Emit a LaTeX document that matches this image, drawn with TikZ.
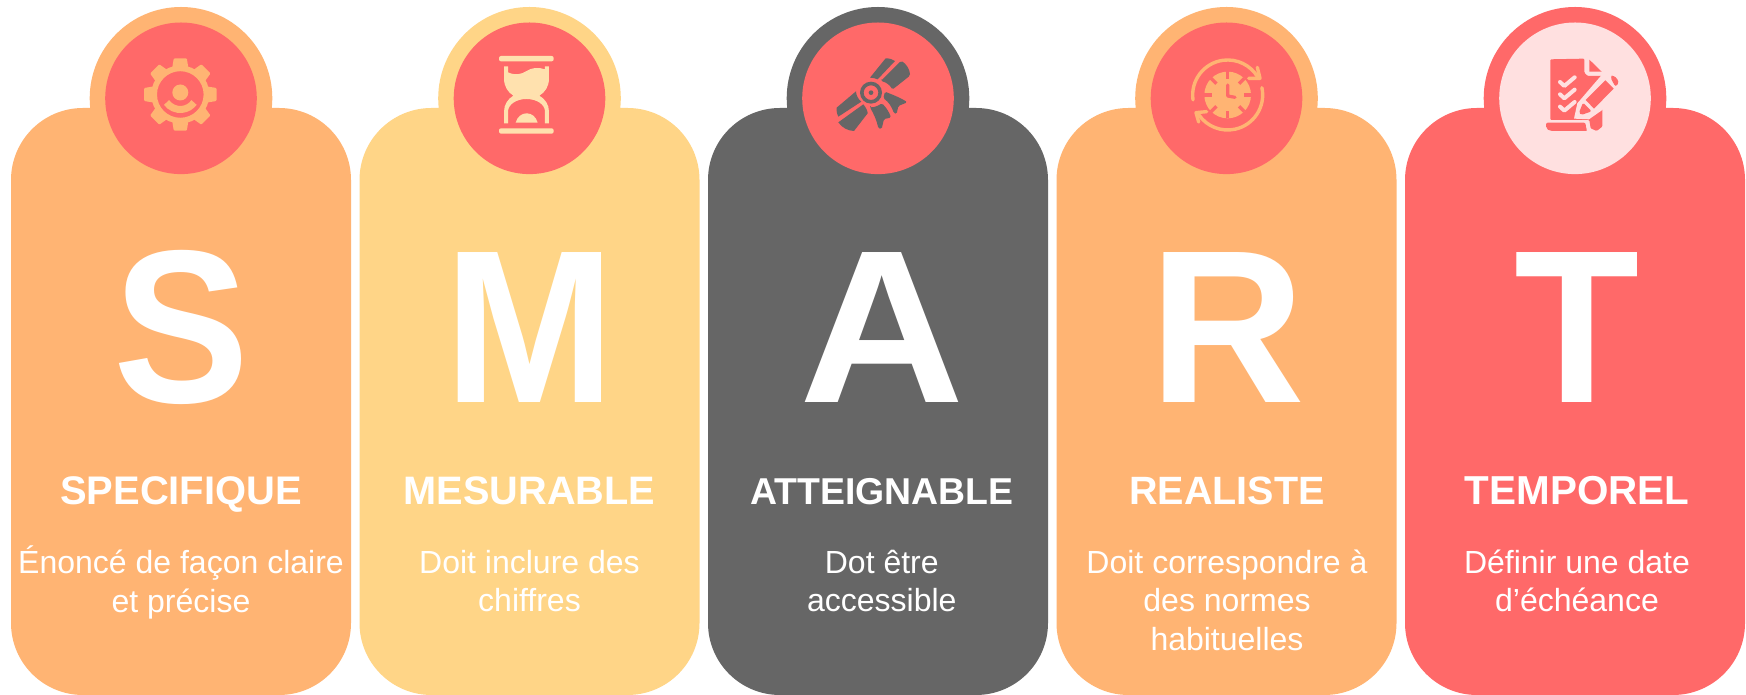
\documentclass[tikz,border=0pt]{standalone}
\usepackage{fontspec}
\setmainfont{Liberation Sans}
\newfontfamily\bodyfont{Liberation Sans}
\definecolor{cOrange}{HTML}{FFB473}
\definecolor{cYellow}{HTML}{FFD587}
\definecolor{cGrey}{HTML}{666666}
\definecolor{cRed}{HTML}{FF6969}
\definecolor{cPale}{HTML}{FFE0E0}
\definecolor{cSand}{HTML}{FFE1AE}
\tikzset{
  cardbox/.style={rectangle,rounded corners=72pt,minimum width=340pt,minimum height=587pt,inner sep=0pt,outer sep=0pt,anchor=south,fill=#1},
  ringdisc/.style={circle,minimum size=182.6pt,inner sep=0pt,outer sep=0pt,fill=#1},
  innerdisc/.style={circle,minimum size=151.6pt,inner sep=0pt,outer sep=0pt,fill=#1},
  bigletter/.style={anchor=base,inner sep=0pt,text=white,font=\bfseries\fontsize{218}{218}\selectfont},
  titletext/.style={anchor=base,inner sep=0pt,text=white,font=\bfseries\fontsize{#1}{#1}\selectfont},
  bodytext/.style={anchor=north,inner sep=0pt,align=center,text=white,font=\bodyfont\fontsize{32}{38.5}\selectfont},
}
\newcommand{\smartcard}[9]{%
  \node[cardbox=#3] (card#1) at (#2,0) {};
  \node[ringdisc=#3] (ring#1) at (#2,596.7) {};
  \node[innerdisc=#4] (disc#1) at (ring#1) {};
  \node[bigletter] (letter#1) at (#2+#5,292) {\scalebox{#8}[1]{#1}};
  \node[titletext=#7] (title#1) at (#2+#5,190) {#6};
  \node[bodytext] (body#1) at (#2+#5,149) {#9};
}
\begin{document}
\begin{tikzpicture}[x=1pt,y=1pt]
\useasboundingbox (0,0) rectangle (1746,695);
\fill[white] (0,0) rectangle (1746,695);
\smartcard{S}{181}{cOrange}{cRed}{0}{SPECIFIQUE}{39.9}{0.935}{\strut Énoncé de façon claire\\et précise}
\smartcard{M}{529.5}{cYellow}{cRed}{0}{MESURABLE}{39.7}{0.94}{\strut Doit inclure des\\chiffres}
\smartcard{A}{878}{cGrey}{cRed}{3.8}{ATTEIGNABLE}{37.4}{1.05}{\strut Dot être\\accessible}
\smartcard{R}{1226.5}{cOrange}{cRed}{0.5}{REALISTE}{39.5}{0.99}{\strut Doit correspondre à\\des normes\\habituelles}
\smartcard{T}{1575}{cRed}{cPale}{2}{TEMPOREL}{40.4}{0.94}{\strut Définir une date\\d’échéance}
% gear icon
\begin{scope}[shift={(180.3,600.5)},cOrange]
  \foreach \a in {0,45,...,315}
    \fill[rotate=\a,rounded corners=1pt] (-8.5,24) -- (-6.5,36.2) -- (6.5,36.2) -- (8.5,24) -- cycle;
  \fill[even odd rule] (0,0) circle[radius=29] (0,0) circle[radius=23.3];
  \fill (0,2) circle[radius=8];
  \draw[line width=7pt] (0,2) ++(216:17) arc[start angle=216,end angle=324,radius=17];
\end{scope}
% hourglass icon
\begin{scope}[shift={(480,650)},x=0.3333pt,y=-0.3333pt,cSand]
  \fill[rounded corners=2pt] (57,33) rectangle (221,49);
  \fill[rounded corners=2pt] (57,250) rectangle (221,266);
  \fill (72,64) -- (84,64) -- (84,82) .. controls (105,92) and (125,88) .. (140,78) .. controls (155,68) and (175,66) .. (195,73) -- (195,64) -- (207,64) -- (207,100) .. controls (207,125) and (195,142) .. (178,152) .. controls (195,162) and (207,178) .. (207,200) -- (207,235) -- (195,235) -- (195,200) .. controls (195,178) and (170,162) .. (139,162) .. controls (110,162) and (84,178) .. (84,200) -- (84,235) -- (72,235) -- (72,200) .. controls (72,178) and (84,162) .. (100,152) .. controls (84,142) and (72,125) .. (72,100) -- cycle;
  \fill (107,233) .. controls (112,215) and (125,205) .. (140,205) .. controls (155,205) and (168,215) .. (173,233) -- cycle;
\end{scope}
% scroll icon
\begin{scope}[shift={(820,650)},x=0.3333pt,y=-0.3333pt,cGrey]
  \fill (150,98) -- (197,40) .. controls (208,40) and (218,43) .. (225,48) -- (173,103) .. controls (165,100) and (158,98) .. (150,98) -- cycle;
  \fill[rounded corners=1.5pt] (183,108) -- (243,48) .. controls (258,55) and (270,75) .. (270,92) -- (217,134) .. controls (210,120) and (198,112) .. (183,108) -- cycle;
  \fill (108,139) .. controls (108,150) and (114,162) .. (124,170) -- (55,215) .. controls (50,205) and (49,195) .. (50,188) -- cycle;
  \fill (130,178) .. controls (138,188) and (143,198) .. (143,205) -- (102,258) .. controls (85,258) and (65,248) .. (55,232) -- cycle;
  \fill[even odd rule] (153,143) circle[radius=33] (153,143) circle[radius=22];
  \fill (153,143) circle[radius=7];
  \fill[rounded corners=1.5pt] (195,140) .. controls (220,150) and (245,160) .. (262,172) -- (235,183) -- (230,207) -- (222,205) .. controls (215,185) and (205,170) .. (190,160) -- cycle;
  \fill[rounded corners=1.5pt] (150,187) .. controls (165,187) and (178,180) .. (185,175) .. controls (197,185) and (208,202) .. (213,218) -- (192,222) -- (185,252) -- (175,250) .. controls (170,225) and (160,205) .. (150,187) -- cycle;
\end{scope}
% clock icon
\begin{scope}[shift={(1170,645)},x=0.3333pt,y=-0.3333pt]
  \fill[cOrange] (173,135) circle[radius=70];
  \coordinate (clockc) at (173,135);
  \foreach \a in {0,45,...,315}
    \draw[cRed,line width=3.4pt] ([shift={(\a:23.5pt)}]clockc) -- ([shift={(\a:16pt)}]clockc);
  \draw[cRed,line width=3.2pt,line cap=round,line join=round] (173,105) -- (173,138) -- (195,142);
  \draw[cOrange,line width=3.4pt,line cap=round] ([shift={(188:35pt)}]clockc) arc[start angle=188,end angle=30,radius=35pt];
  \draw[cOrange,line width=3.4pt,line cap=round] ([shift={(12:35pt)}]clockc) arc[start angle=12,end angle=-145,radius=35pt];
  \draw[cOrange,line width=3.4pt,line cap=round,line join=round] (262,52) -- (270,85) -- (236,85);
  \draw[cOrange,line width=3.4pt,line cap=round,line join=round] (110,185) -- (78,188) -- (86,216);
\end{scope}
% document icon
\begin{scope}[shift={(1440,695)},x=0.3333pt,y=-0.3333pt]
  \fill[cRed,rounded corners=1pt] (331,178) -- (433,176) -- (433,218) -- (443,228) -- (487,228) -- (487,380) -- (470,393) -- (452,385) -- (448,360) -- (331,360) -- cycle;
  \fill[cRed] (448,179) -- (485,215) -- (448,215) -- cycle;
  \fill[cRed,rounded corners=2pt] (318,368) -- (437,368) .. controls (437,378) and (439,386) .. (443,393) -- (330,393) -- (318,385) -- cycle;
  \foreach \d in {0,37,74}
    \draw[cPale,line width=4pt,line cap=round,line join=round] (360,246+\d) -- (373,258+\d) -- (404,232+\d);
  \fill[cPale] (520,212) -- (552,245) -- (530,280) -- (487,330) -- (447,358) -- (402,356) -- (412,310) -- (485,225) -- cycle;
  \fill[cRed,rounded corners=3pt] (510,230) -- (521,225) -- (538,245) -- (527,262) -- cycle;
  \fill[cRed] (496,241) -- (521,266) -- (462,326) -- (437,300) -- cycle;
  \fill[cRed,rounded corners=1.5pt] (429,308) -- (455,334) -- (424,345) -- (417,338) -- cycle;
\end{scope}
\end{tikzpicture}
\end{document}
